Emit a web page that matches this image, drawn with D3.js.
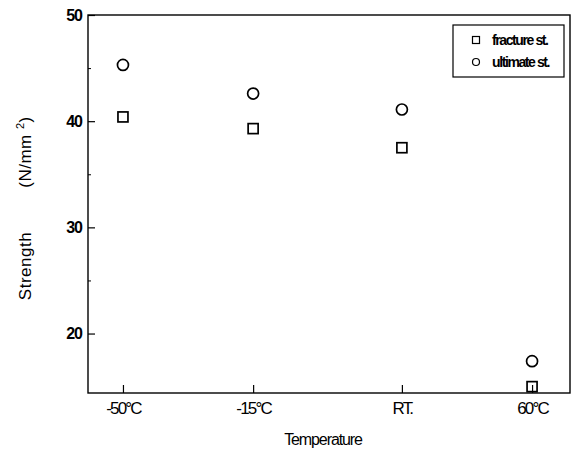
<!DOCTYPE html>
<html>
<head>
<meta charset="utf-8">
<script src="https://cdn.jsdelivr.net/npm/d3@7"></script>
<style>
  body { margin: 0; background: #fff; }
  svg { display: block; }
  text { font-family: "Liberation Sans", Arial, sans-serif; fill: #000; }
</style>
</head>
<body>
<div class="grafic"></div>
<script>
// temperature of each test (RT taken as ~25 °C), and its label
const temps = [-50, -15, 25, 60];
const tempLabels = ["-50°C", "-15°C", "RT.", "60°C"];
// strength values, N/mm²
const fracture = [40.4, 39.3, 37.5, 15.0];
const ultimate = [45.3, 42.6, 41.1, 17.4];
const yTicks = [20, 30, 40, 50];
const yMinor = [25, 35, 45];

const w = 572, h = 450;
const padL = 88, padR = 570, padT = 15, padB = 393;

let svg = d3.select(".grafic")
    .append("svg")
    .attr("width", w)
    .attr("height", h);

let xScale = d3.scaleLinear()
    .domain([-59.4, 70.2])
    .range([padL, padR]);

let yScale = d3.scaleLinear()
    .domain([14.4, 50])
    .range([padB, padT]);

// frame
svg.append("rect")
    .attr("x", padL)
    .attr("y", padT)
    .attr("width", padR - padL)
    .attr("height", padB - padT)
    .attr("fill", "none")
    .attr("stroke", "#000")
    .attr("stroke-width", 1.4);

// y axis, ticks pointing inward
let yAxis = d3.axisLeft(yScale)
    .tickValues(yTicks)
    .tickSize(-7)
    .tickPadding(6);

let gy = svg.append("g")
    .attr("transform", "translate(" + padL + ",0)")
    .call(yAxis);
gy.select(".domain").remove();
gy.selectAll("line").attr("stroke-width", 1.2);
gy.selectAll("text")
    .attr("font-size", 16)
    .attr("font-weight", "bold")
    .attr("letter-spacing", -1)
    .attr("font-family", "Liberation Sans, Arial, sans-serif");

let yAxisMinor = d3.axisLeft(yScale)
    .tickValues(yMinor)
    .tickSize(-3)
    .tickFormat("");
let gym = svg.append("g")
    .attr("transform", "translate(" + padL + ",0)")
    .call(yAxisMinor);
gym.select(".domain").remove();

// x axis, ticks pointing up
let xAxis = d3.axisBottom(xScale)
    .tickValues(temps)
    .tickFormat((d, i) => tempLabels[i])
    .tickSize(-8)
    .tickPadding(9);

let gx = svg.append("g")
    .attr("transform", "translate(0," + padB + ")")
    .call(xAxis);
gx.select(".domain").remove();
gx.selectAll("line").attr("stroke-width", 1.2);
gx.selectAll("text")
    .attr("font-size", 17)
    .attr("letter-spacing", -1.8)
    .attr("font-family", "Liberation Sans, Arial, sans-serif");

// axis titles
svg.append("text")
    .attr("x", 323)
    .attr("y", 445)
    .attr("text-anchor", "middle")
    .attr("font-size", 16)
    .attr("letter-spacing", -1.1)
    .text("Temperature");

svg.append("text")
    .attr("transform", "translate(31,266) rotate(-90)")
    .attr("text-anchor", "middle")
    .attr("font-size", 17)
    .attr("letter-spacing", 0.5)
    .text("Strength");

let yt = svg.append("text")
    .attr("transform", "translate(31,152) rotate(-90)")
    .attr("text-anchor", "middle")
    .attr("font-size", 17)
    .attr("letter-spacing", 0.5)
    .attr("xml:space", "preserve");
yt.append("tspan").text("(N/mm ");
yt.append("tspan").attr("dy", -7).attr("font-size", 11).text("2");
yt.append("tspan").attr("dy", 7).text(")");

// markers
let data = temps.map((t, i) => ({ t: t, f: fracture[i], u: ultimate[i] }));

svg.selectAll(".sq")
    .data(data)
    .enter()
    .append("rect")
    .attr("class", "sq")
    .attr("x", d => xScale(d.t) - 5)
    .attr("y", d => yScale(d.f) - 5)
    .attr("width", 10)
    .attr("height", 10)
    .attr("fill", "none")
    .attr("stroke", "#000")
    .attr("stroke-width", 1.7);

svg.selectAll(".ci")
    .data(data)
    .enter()
    .append("circle")
    .attr("class", "ci")
    .attr("cx", d => xScale(d.t))
    .attr("cy", d => yScale(d.u))
    .attr("r", 5.5)
    .attr("fill", "none")
    .attr("stroke", "#000")
    .attr("stroke-width", 1.7);

// legend
let lg = svg.append("g");
lg.append("rect")
    .attr("x", 453)
    .attr("y", 25)
    .attr("width", 111)
    .attr("height", 52)
    .attr("fill", "#fff")
    .attr("stroke", "#000")
    .attr("stroke-width", 1.2);
lg.append("rect")
    .attr("x", 472.5).attr("y", 36.5).attr("width", 7).attr("height", 7)
    .attr("fill", "none").attr("stroke", "#000").attr("stroke-width", 1.2);
lg.append("circle")
    .attr("cx", 476).attr("cy", 62).attr("r", 3.5)
    .attr("fill", "none").attr("stroke", "#000").attr("stroke-width", 1.2);
lg.append("text")
    .attr("x", 492).attr("y", 45)
    .attr("font-size", 14).attr("font-weight", "bold").attr("letter-spacing", -1.4)
    .text("fracture st.");
lg.append("text")
    .attr("x", 492).attr("y", 67)
    .attr("font-size", 14).attr("font-weight", "bold").attr("letter-spacing", -1.4)
    .text("ultimate st.");
</script>
</body>
</html>
